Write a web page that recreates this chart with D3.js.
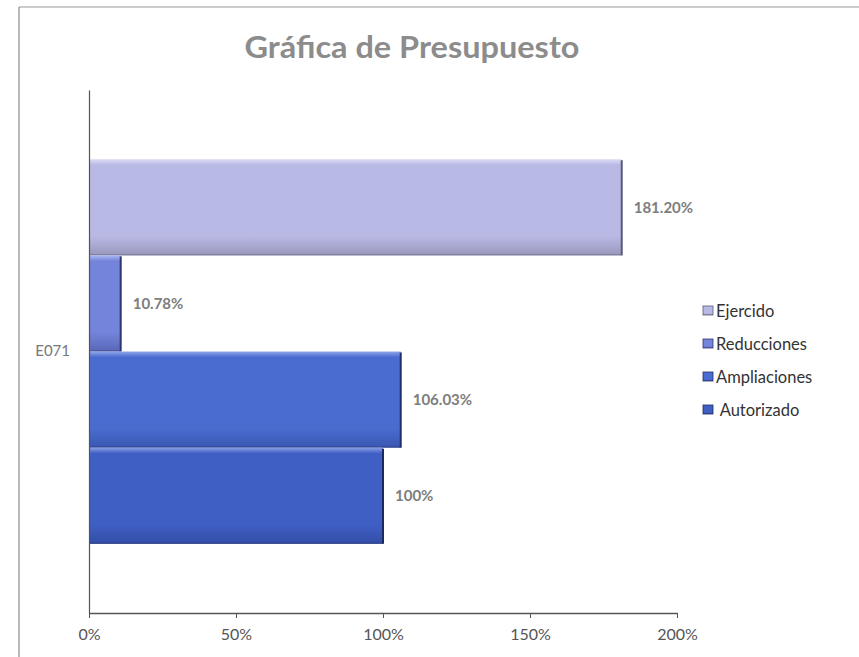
<!DOCTYPE html>
<html>
<head>
<meta charset="utf-8">
<script src="https://cdn.jsdelivr.net/npm/d3@7"></script>
<style>
  html, body { margin: 0; padding: 0; background: #fff; }
  svg { display: block; }
  text { font-family: Lato, "Open Sans", sans-serif; }
</style>
</head>
<body>
<svg id="chart" width="859" height="657"></svg>
<script>
// ---- Data ----
const categories = ["E071"];
const seriesNames = ["Ejercido", "Reducciones", "Ampliaciones", "Autorizado"];
const seriesValues = [1.812, 0.1078, 1.0603, 1.00];
const valueLabels = ["181.20%", "10.78%", "106.03%", "100%"];
const xTicks = [0, 0.5, 1.0, 1.5, 2.0];
const xTickLabels = ["0%", "50%", "100%", "150%", "200%"];
const legendLabels = ["Ejercido", "Reducciones", "Ampliaciones", " Autorizado"];
const title = "Gráfica de Presupuesto";

// ---- Styles ----
const colors = {
  "Ejercido":     { top: "#dcdcf4", mid: "#b9b9e6", bot: "#9898bc", edge: "#5a5a78" },
  "Reducciones":  { top: "#aab8ee", mid: "#7384da", bot: "#5a67b8", edge: "#2e3570" },
  "Ampliaciones": { top: "#8fa6ea", mid: "#4a6cd0", bot: "#3a56b0", edge: "#1f2f6a" },
  "Autorizado":   { top: "#8aa0e6", mid: "#3f5fc4", bot: "#324ea6", edge: "#1c2a60" }
};

const svg = d3.select("#chart");
const W = 859, H = 657;
const plot = { left: 89, right: 677, top: 90, bottom: 613 };

// Frame (scanned page border)
svg.append("line").attr("x1", 19).attr("y1", 7).attr("x2", W).attr("y2", 7)
  .attr("stroke", "#9a9a9a").attr("stroke-width", 1.2);
svg.append("line").attr("x1", 19).attr("y1", 7).attr("x2", 19).attr("y2", H)
  .attr("stroke", "#8a8a8a").attr("stroke-width", 1.2);

// Title
svg.append("text").attr("x", 412).attr("y", 58).attr("text-anchor", "middle")
  .attr("font-size", 30).attr("font-weight", "bold").attr("fill", "#8c8c8c")
  .attr("textLength", 335).attr("lengthAdjust", "spacingAndGlyphs")
  .text(title);

// Scales
const x = d3.scaleLinear().domain([0, 2]).range([plot.left, plot.right]);
const y0 = d3.scaleBand().domain(categories).range([plot.top, plot.bottom]).paddingInner(0).paddingOuter(0.18);
const y1 = d3.scaleBand().domain(seriesNames).range([0, y0.bandwidth()]).padding(0);

// Gradients
const defs = svg.append("defs");
seriesNames.forEach((s, i) => {
  const c = colors[s];
  const g = defs.append("linearGradient").attr("id", "g" + i)
    .attr("x1", 0).attr("y1", 0).attr("x2", 0).attr("y2", 1);
  g.append("stop").attr("offset", "0%").attr("stop-color", c.top);
  g.append("stop").attr("offset", "6%").attr("stop-color", c.mid);
  g.append("stop").attr("offset", "80%").attr("stop-color", c.mid);
  g.append("stop").attr("offset", "100%").attr("stop-color", c.bot);
});

// Bars
const cat = svg.append("g").selectAll("g").data(categories).join("g")
  .attr("transform", d => `translate(0,${y0(d)})`);

const bars = cat.selectAll("g.bar").data(seriesNames.map((s, i) => ({ s, i, v: seriesValues[i] })))
  .join("g").attr("class", "bar");

bars.append("rect")
  .attr("x", x(0)).attr("y", d => y1(d.s))
  .attr("width", d => x(d.v) - x(0)).attr("height", y1.bandwidth())
  .attr("fill", d => `url(#g${d.i})`);
// dark right edge
bars.append("line")
  .attr("x1", d => x(d.v)).attr("x2", d => x(d.v))
  .attr("y1", d => y1(d.s) + 1).attr("y2", d => y1(d.s) + y1.bandwidth())
  .attr("stroke", d => colors[d.s].edge).attr("stroke-width", 2);
// dark bottom edge
bars.append("line")
  .attr("x1", x(0)).attr("x2", d => x(d.v))
  .attr("y1", d => y1(d.s) + y1.bandwidth() - 0.5).attr("y2", d => y1(d.s) + y1.bandwidth() - 0.5)
  .attr("stroke", d => colors[d.s].edge).attr("stroke-opacity", 0.6).attr("stroke-width", 1);

// Value labels
bars.append("text")
  .attr("x", d => x(d.v) + 12)
  .attr("y", d => y1(d.s) + y1.bandwidth() / 2)
  .attr("dy", "0.35em")
  .attr("font-size", 15).attr("font-weight", "bold").attr("fill", "#7d7d7d")
  .text(d => valueLabels[d.i]);

// Axes
const xAxis = d3.axisBottom(x).tickValues(xTicks).tickFormat((d, i) => xTickLabels[i]).tickSize(5).tickSizeOuter(0);
const gx = svg.append("g").attr("transform", `translate(0,${plot.bottom})`).call(xAxis);
gx.select(".domain").attr("stroke", "#555").attr("stroke-width", 1.5);
gx.selectAll(".tick line").attr("stroke", "#555");
gx.selectAll(".tick text").attr("font-size", 16).attr("fill", "#555").attr("dy", "1.2em")
  .attr("font-family", "Lato, sans-serif");

const yAxis = d3.axisLeft(y0).tickSize(0).tickSizeOuter(0).tickPadding(19);
const gy = svg.append("g").attr("transform", `translate(${plot.left},0)`).call(yAxis);
gy.select(".domain").attr("stroke", "#555").attr("stroke-width", 1.2);
gy.selectAll(".tick text").attr("font-size", 15).attr("fill", "#777").attr("font-family", "Lato, sans-serif");

// Legend
const legend = svg.append("g").attr("transform", "translate(703,311)");
const li = legend.selectAll("g").data(seriesNames).join("g")
  .attr("transform", (d, i) => `translate(0,${i * 33})`);
li.append("rect").attr("x", 0).attr("y", -5).attr("width", 10).attr("height", 9)
  .attr("fill", (d, i) => `url(#g${i})`).attr("stroke", d => colors[d].edge).attr("stroke-width", 0.8);
li.append("text").attr("x", 13).attr("y", 0).attr("dy", "0.35em")
  .attr("font-size", 16.5).attr("fill", "#333").attr("xml:space", "preserve")
  .style("white-space", "pre")
  .text((d, i) => legendLabels[i]);
</script>
</body>
</html>
